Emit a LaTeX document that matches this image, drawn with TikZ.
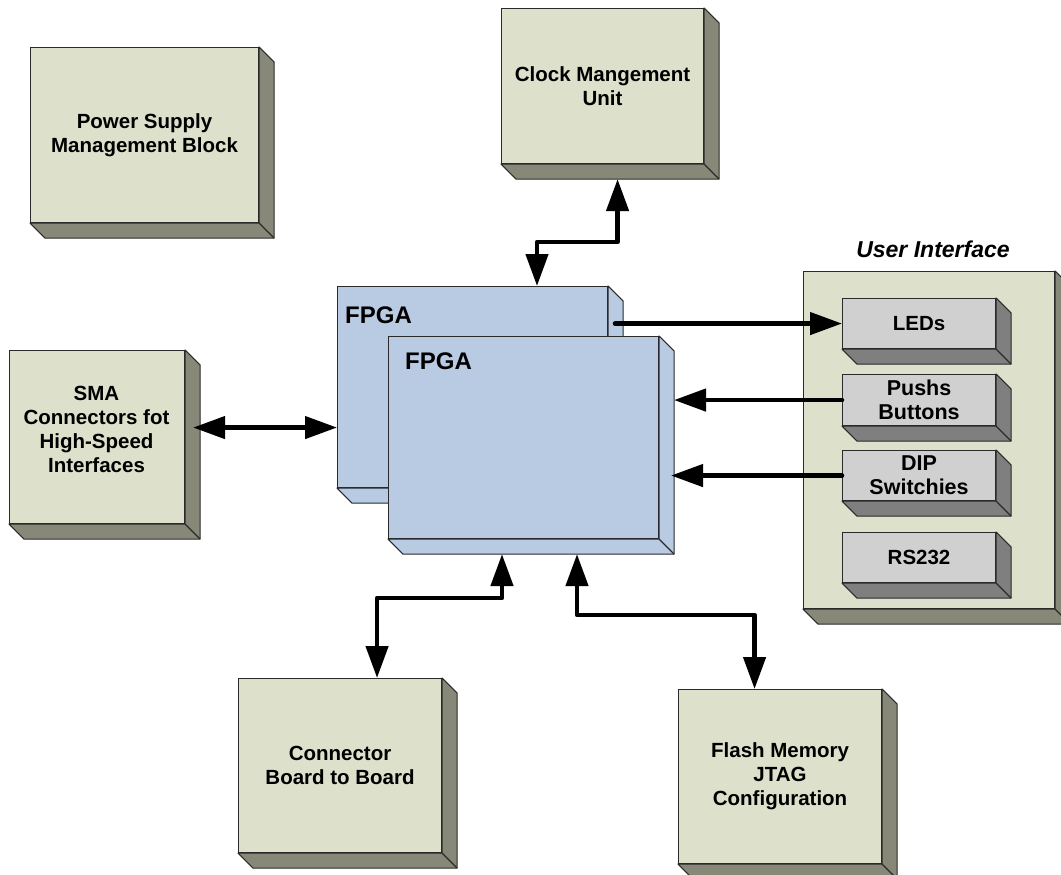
\documentclass[tikz,border=0pt]{standalone}
\usepackage{fontspec}
\setmainfont{Liberation Sans}
\usetikzlibrary{arrows.meta,calc}
\definecolor{greenface}{HTML}{DDE0CB}
\definecolor{greenside}{HTML}{878878}
\definecolor{blueface}{HTML}{B9CAE3}
\definecolor{grayface}{HTML}{D0D0D0}
\definecolor{grayside}{HTML}{7F7F7F}
\definecolor{edgecol}{HTML}{2A2A2A}
\newcommand\boxside[2]{%
  \filldraw[fill=#2, draw=edgecol, line width=1.1pt, line join=round]
    (#1.north east) -- ++(15,15) -- ($(#1.south east)+(15,15)$)
    -- ($(#1.south west)+(15,15)$) -- (#1.south west) -- (#1.south east) -- cycle;
  \draw[draw=edgecol, line width=1.1pt] (#1.south east) -- ++(15,15);}
\tikzset{
  blk/.style={draw=edgecol, line width=1.1pt, inner sep=0pt, anchor=north west,
    align=center, font=\fontsize{20.5}{24}\selectfont\bfseries},
  gbox/.style={blk, fill=greenface},
  bbox/.style={blk, fill=blueface},
  sbox/.style={blk, fill=grayface},
  conn/.style={line width=4.5pt, line join=round, draw=black},
  biarrow/.style={conn, {Triangle[length=32pt,width=22pt]}-{Triangle[length=32pt,width=22pt]}},
  toarrow/.style={conn, line cap=round, -{Triangle[length=32pt,width=22pt]}},
  fromarrow/.style={conn, line cap=round, {Triangle[length=32pt,width=22pt]}-},
  lbl/.style={font=\fontsize{24}{28}\selectfont\bfseries, anchor=base west, inner sep=0pt}
}
\begin{document}
\begin{tikzpicture}[x=1pt,y=-1pt]
\useasboundingbox (0,0) rectangle (1061,875);
% Power supply
\node[gbox, minimum width=228pt, minimum height=175pt] (power) at (30,47) {Power Supply\\Management Block};
\boxside{power}{greenside}
% Clock
\node[gbox, minimum width=202pt, minimum height=155pt] (clock) at (501,8) {Clock Mangement\\Unit};
\boxside{clock}{greenside}
% SMA
\node[gbox, minimum width=175pt, minimum height=173pt] (sma) at (9,350) {};
\boxside{sma}{greenside}
\node[align=center, font=\fontsize{20.5}{24}\selectfont\bfseries] (smatext) at (96.5,429) {SMA\\Connectors fot\\High-Speed\\Interfaces};
% Connector
\node[gbox, minimum width=203pt, minimum height=174pt] (cbb) at (238,678) {Connector\\Board to Board};
\boxside{cbb}{greenside}
% Flash
\node[gbox, minimum width=203pt, minimum height=174pt] (flash) at (678,689) {Flash Memory\\JTAG\\Configuration};
\boxside{flash}{greenside}
% User interface panel
\node[gbox, minimum width=251pt, minimum height=337pt] (ui) at (803,271) {};
\boxside{ui}{greenside}
\node[font=\fontsize{23}{27}\selectfont\bfseries\itshape] (uilabel) at (933,249) {User Interface};
\node[sbox, minimum width=153pt, minimum height=50pt] (leds) at (842,298) {LEDs};
\boxside{leds}{grayside}
\node[sbox, minimum width=153pt, minimum height=51pt, font=\fontsize{21.5}{24}\selectfont\bfseries] (push) at (842,374) {Pushs\\Buttons};
\boxside{push}{grayside}
\node[sbox, minimum width=153pt, minimum height=50pt, font=\fontsize{21.5}{24}\selectfont\bfseries] (dip) at (842,450) {DIP\\Switchies};
\boxside{dip}{grayside}
\node[sbox, minimum width=153pt, minimum height=50pt] (rs) at (842,532) {RS232};
\boxside{rs}{grayside}
% FPGAs
\node[bbox, minimum width=270pt, minimum height=201pt] (fpgaB) at (337,286) {};
\boxside{fpgaB}{blueface}
\node[lbl] (fpgaBl) at (345,323) {FPGA};
\node[bbox, minimum width=270pt, minimum height=202pt] (fpgaF) at (388,336) {};
\boxside{fpgaF}{blueface}
\node[lbl] (fpgaFl) at (405,369) {FPGA};
% connectors
\draw[biarrow] ([xshift=200pt]fpgaB.north west) -- ++(0,-44) -| ([xshift=15pt,yshift=-15pt]clock.south);
\draw[biarrow] ([xshift=8pt,yshift=9.5pt]sma.east) -- ([yshift=-40.5pt]fpgaB.west);
\draw[fromarrow] (leds.west) -- ++(-227,0);
\draw[toarrow] (push.west) -- ++(-168,0);
\draw[toarrow] (dip.west) -- ++(-171,0);
\draw[biarrow] ([xshift=114pt,yshift=-15pt]fpgaF.south west) -- ++(0,44) -| ([xshift=37pt]cbb.north);
\draw[biarrow] ([xshift=189pt,yshift=-15pt]fpgaF.south west) -- ++(0,61) -| ([xshift=-25.5pt]flash.north);
\end{tikzpicture}
\end{document}
